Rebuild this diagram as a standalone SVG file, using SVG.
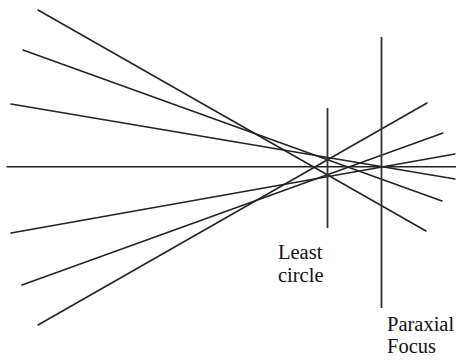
<svg xmlns="http://www.w3.org/2000/svg" width="456" height="363" viewBox="0 0 456 363">
<style>
.ray{stroke:#222;stroke-width:1.5;fill:none;stroke-linecap:round}
.plane{stroke:#333;stroke-width:1.8;fill:none}
text{font-family:'Liberation Serif','DejaVu Serif',serif;font-size:20.5px;fill:#111}
</style>
<rect width="456" height="363" fill="#fff"/>
<g id="connectors">
<line class="ray" x1="7" y1="166.7" x2="456" y2="166.7"/>
<line class="ray" x1="38" y1="10" x2="426" y2="231"/>
<line class="ray" x1="23" y1="50" x2="442" y2="201"/>
<line class="ray" x1="11" y1="104" x2="455" y2="179"/>
<line class="ray" x1="38" y1="325" x2="427" y2="103"/>
<line class="ray" x1="22" y1="285" x2="443" y2="133"/>
<line class="ray" x1="11" y1="233" x2="455" y2="154"/>
</g>
<g id="least-circle">
<line class="plane" x1="327.5" y1="108" x2="327.5" y2="228"/>
<text x="278" y="259" font-family="Liberation Serif, serif">Least</text>
<text x="278" y="282" font-family="Liberation Serif, serif">circle</text>
</g>
<g id="paraxial-focus">
<line class="plane" x1="381.5" y1="37" x2="381.5" y2="308"/>
<text x="387" y="331" font-family="Liberation Serif, serif">Paraxial</text>
<text x="387" y="353" font-family="Liberation Serif, serif">Focus</text>
</g>
</svg>
